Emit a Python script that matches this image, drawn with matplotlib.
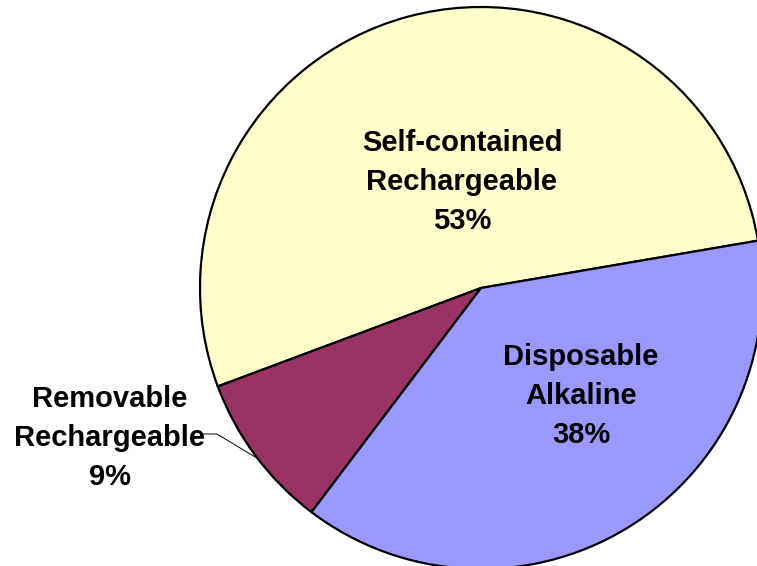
import matplotlib
matplotlib.use("Agg")
import matplotlib.pyplot as plt

# Battery type shares
categories = ["Self-contained\nRechargeable", "Removable\nRechargeable", "Disposable\nAlkaline"]
shares = [53, 9, 38]
colors = ["#FFFFCC", "#993366", "#9999FF"]

W, H = 757, 566
cx, cy, r = 481, 288, 281  # pie centre and radius in pixels

fig = plt.figure(figsize=(W / 100, H / 100), dpi=100)
ax = fig.add_axes([0, 0, 1, 1])

wedges, _ = ax.pie(shares, colors=colors, startangle=9.7, counterclock=True,
                   wedgeprops=dict(edgecolor="black", linewidth=1.6))

ax.set_xlim(-cx / r, (W - cx) / r)
ax.set_ylim(-(H - cy) / r, cy / r)
ax.set_aspect("auto")
ax.axis("off")


def px(x, y):
    return (x - cx) / r, (cy - y) / r


font = dict(family=["Liberation Sans", "DejaVu Sans"], fontsize=21,
            fontweight="bold", ha="center", va="center", linespacing=1.5)

label_pos = [(462, 182), (110, 438), (581, 396)]
for name, val, (x, y) in zip(categories, shares, label_pos):
    ax.text(*px(x, y), f"{name}\n{val}%", **font)

# leader line for the small slice
lx = [px(202, 434)[0], px(217, 434)[0], px(260, 460)[0]]
ly = [px(202, 434)[1], px(217, 434)[1], px(260, 460)[1]]
ax.plot(lx, ly, color="black", linewidth=0.7)

fig.savefig("out.png", dpi=100)
